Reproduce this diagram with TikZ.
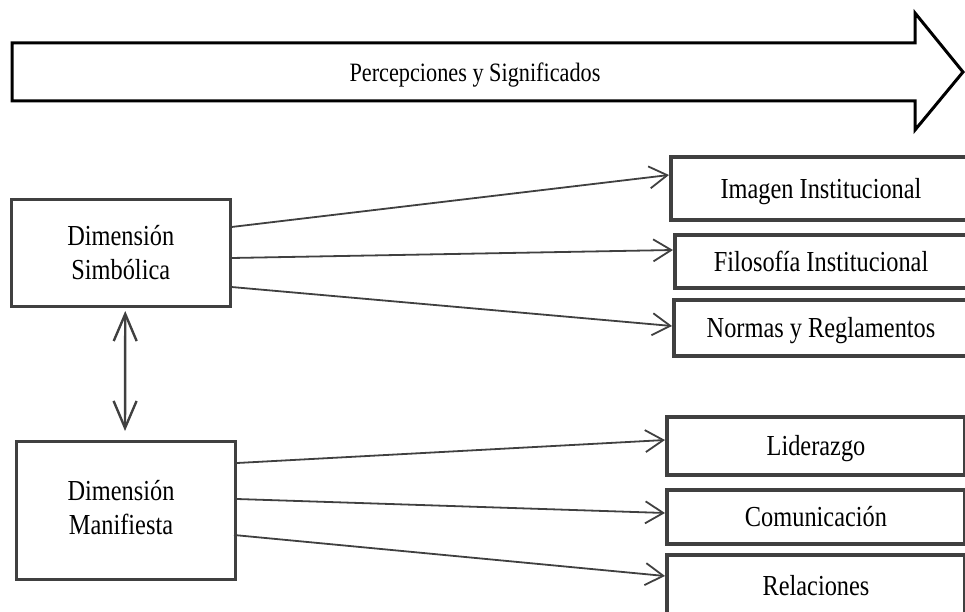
\documentclass[tikz,border=0pt]{standalone}
\usepackage{fontspec}
\setmainfont[FakeStretch=0.84]{Liberation Serif}
\usetikzlibrary{arrows.meta,calc}
\definecolor{edge}{HTML}{404040}
\tikzset{
  dimbox/.style={draw=edge, line width=3pt, fill=white, align=center,
    font=\fontsize{29}{34}\selectfont, inner sep=0pt},
  itembox/.style={draw=edge, line width=4pt, fill=white, inner sep=0pt,
    font=\fontsize{29}{34}\selectfont, text height=19.2pt, text depth=0pt},
  conn/.style={draw=edge, line width=1.8pt,
    -{Straight Barb[length=18pt,width=22pt,line width=1.8pt]}},
  biconn/.style={draw=edge, line width=2.4pt,
    {Straight Barb[length=27pt,width=23pt,line width=2.4pt]}-{Straight Barb[length=27pt,width=23pt,line width=2.4pt]}},
  bigarrow/.style={draw=black, line width=3pt, line join=miter, fill=white},
}
\newcommand{\padR}{\hbox to 10pt{}}
\begin{document}
\begin{tikzpicture}[x=1pt,y=-1pt]
\useasboundingbox (0,0) rectangle (965,612);

% wide arrow across the top
\draw[bigarrow] (12,43) -- (915,43) -- (915,13) -- (963,72) -- (915,130)
  -- (915,101) -- (12,101) -- cycle;
\node[anchor=base, inner sep=0pt, font=\fontsize{26.5}{30}\selectfont] (title)
  at (475,82) {Percepciones y Significados};

% the two dimensions
\node[dimbox, minimum width=218.5pt, minimum height=107pt] (ds) at (120.75,253)
  {Dimensión\\Simbólica};
\node[dimbox, minimum width=219pt, minimum height=138pt] (dm) at (126,510.5)
  {Dimensión\padR\\Manifiesta\padR\rule[-6pt]{0pt}{6pt}};

% their components
\node[itembox, minimum width=300pt, minimum height=63pt] (img) at (821,188.5)
  {Imagen Institucional};
\node[itembox, minimum width=292pt, minimum height=53pt] (fil) at (821,261.5)
  {Filosofía Institucional};
\node[itembox, minimum width=294pt, minimum height=56pt] (nor) at (821,328)
  {Normas y Reglamentos};
\node[itembox, minimum width=298pt, minimum height=58pt] (lid) at (816,446)
  {Liderazgo};
\node[itembox, minimum width=298pt, minimum height=54pt] (com) at (816,517)
  {Comunicación};
\node[itembox, minimum width=298pt, minimum height=61pt] (rel) at (816,585.5)
  {Relaciones};

% connectors
\draw[conn] ([yshift=26pt]ds.east) -- ([yshift=13.5pt]img.west);
\draw[conn] ([yshift=-5pt]ds.east) -- ([yshift=11.5pt]fil.west);
\draw[conn] ([yshift=-34pt]ds.east) -- ([yshift=2pt]nor.west);
\draw[conn] ([yshift=47.5pt]dm.east) -- ([yshift=6pt]lid.west);
\draw[conn] ([yshift=11.5pt]dm.east) -- ([yshift=4pt]com.west);
\draw[conn] ([xshift=-3pt,yshift=-24.5pt]dm.east) -- ([yshift=9.5pt]rel.west);

\draw[biconn, shorten <=3pt, shorten >=9pt] ([xshift=4.5pt]ds.south) -- ([xshift=-1pt]dm.north);
\end{tikzpicture}
\end{document}
